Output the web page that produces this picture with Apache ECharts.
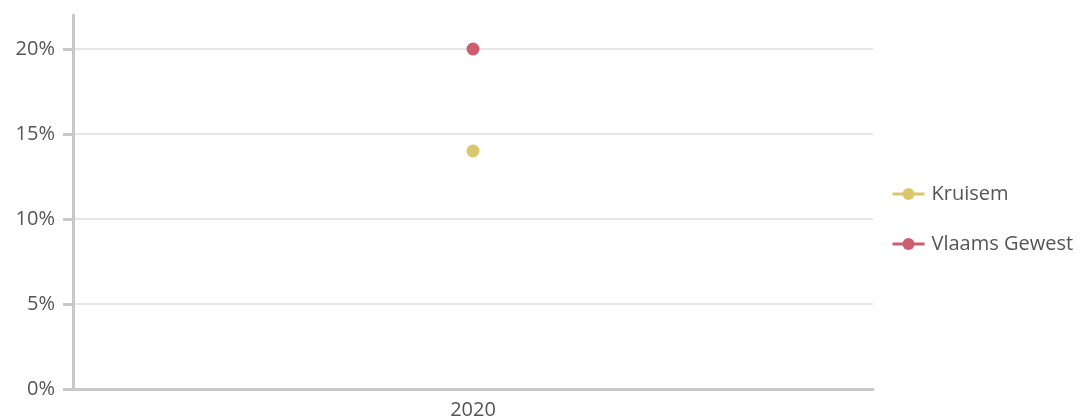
<!DOCTYPE html>
<html><head><meta charset="utf-8">
<script src="https://cdn.jsdelivr.net/npm/echarts@6/dist/echarts.min.js"></script>
<style>html,body{margin:0;padding:0;background:#fff}#c{width:1090px;height:419px}</style>
</head><body><div id="c"></div>
<script>
var categories = ['2020'];
var kruisem = [14.0];
var vlaams = [20.0];
var seriesNames = ['Kruisem', 'Vlaams Gewest'];
var colors = ['#d8c76c', '#cd5d6f'];
var font = '"Open Sans", "Noto Sans", sans-serif';
var chart = echarts.init(document.getElementById('c'));
chart.setOption({
  animation: false,
  color: colors,
  grid: {left: 73, right: 217, top: 15, bottom: 30, containLabel: false, outerBoundsMode: 'none'},
  legend: {
    orient: 'vertical', top: 179, left: 886,
    itemGap: 30, itemWidth: 32, itemHeight: 15,
    lineStyle: {width: 3},
    textStyle: {color: '#555', fontSize: 20, fontFamily: font, padding: [0,0,0,2]},
    data: seriesNames
  },
  xAxis: {
    type: 'category', data: categories, boundaryGap: true,
    axisLine: {lineStyle: {color: '#c8c8c8', width: 3}},
    axisTick: {alignWithLabel: true, length: 8, lineStyle: {color: '#c8c8c8', width: 3}},
    axisLabel: {color: '#555', fontSize: 20, fontFamily: font, margin: 11}
  },
  yAxis: {
    type: 'value', min: 0, max: 22, interval: 5,
    axisLine: {show: true, lineStyle: {color: '#c8c8c8', width: 3}},
    axisTick: {show: true, length: 10, lineStyle: {color: '#c8c8c8', width: 3}},
    axisLabel: {color: '#555', fontSize: 20, fontFamily: font, margin: 18, formatter: '{value}%',
      showMaxLabel: false},
    splitLine: {showMaxLine: false, lineStyle: {color: '#e6e6e6', width: 2}}
  },
  series: [
    {name: seriesNames[0], type: 'line', data: kruisem, symbol: 'circle', symbolSize: 13, lineStyle: {width: 3}},
    {name: seriesNames[1], type: 'line', data: vlaams, symbol: 'circle', symbolSize: 13, lineStyle: {width: 3}}
  ]
});
</script></body></html>
